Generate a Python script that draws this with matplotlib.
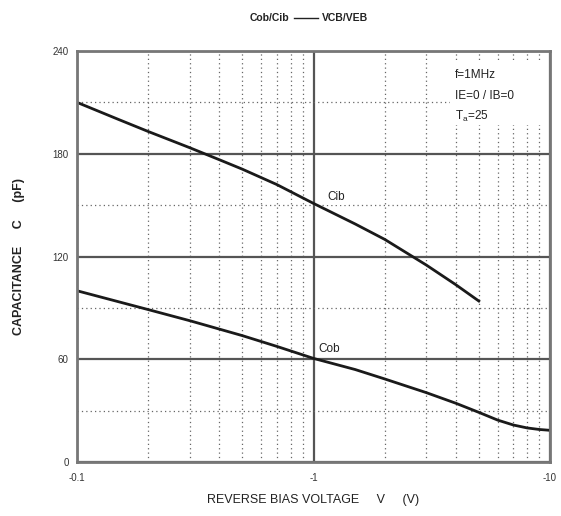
import numpy as np
import matplotlib
matplotlib.use("Agg")
import matplotlib.pyplot as plt
from matplotlib.ticker import FixedLocator, NullFormatter
from matplotlib.patches import Rectangle

plt.rcParams['font.family'] = ['Liberation Sans', 'DejaVu Sans']

# reverse bias voltage (V, magnitude) and capacitance (pF)
cib_v = [0.1, 0.15, 0.2, 0.3, 0.4, 0.5, 0.7, 1.0, 1.5, 2.0, 3.0, 4.0, 5.0]
cib_c = [210, 200, 193, 183.5, 176.5, 171, 162, 151, 139, 130, 115, 103.5, 94]

cob_v = [0.1, 0.2, 0.3, 0.5, 0.7, 1.0, 1.5, 2.0, 3.0, 4.0, 5.0, 6.0, 7.0, 8.0, 9.0, 10.0]
cob_c = [100, 89, 82.5, 73.8, 67.5, 60.5, 54, 48.5, 40.5, 34.3, 29, 24.5, 21.6, 19.9, 19, 18.5]

x_ticks = [0.1, 1, 10]
x_labels = ["-0.1", "-1", "-10"]
y_ticks = [0, 60, 120, 180, 240]
y_minor = [30, 90, 150, 210]

fig = plt.figure(figsize=(5.61, 5.16), dpi=100)
ax = fig.add_axes([77 / 561, 1 - 462 / 516, 473 / 561, 411 / 516])
ax.set_xscale('log')
ax.set_xlim(0.1, 10)
ax.set_ylim(0, 240)

grid_col = '#555555'
ax.xaxis.set_major_locator(FixedLocator(x_ticks))
ax.xaxis.set_minor_locator(FixedLocator([m * d for d in (0.1, 1) for m in range(2, 10)]))
ax.xaxis.set_minor_formatter(NullFormatter())
ax.set_xticklabels(x_labels)
ax.yaxis.set_major_locator(FixedLocator(y_ticks))
ax.yaxis.set_minor_locator(FixedLocator(y_minor))

ax.grid(which='major', color=grid_col, linewidth=1.6, linestyle='-')
ax.grid(which='minor', color='#666666', linewidth=0.9, linestyle=(0, (1, 2.5)))
ax.tick_params(which='both', length=0, labelsize=7, colors='#333333')
ax.tick_params(axis='x', pad=8)
ax.tick_params(axis='y', pad=6)
for sp in ax.spines.values():
    sp.set_color('#777777')
    sp.set_linewidth(2)

# white panel behind the conditions text, hides the grid there
ax.add_patch(Rectangle((0.789, 0.82), 0.205, 0.15, transform=ax.transAxes,
                       facecolor='white', edgecolor='none', zorder=1.8))

ax.plot(cib_v, cib_c, color='#1a1a1a', linewidth=2, solid_joinstyle='round')
ax.plot(cob_v, cob_c, color='#1a1a1a', linewidth=2, solid_joinstyle='round')

lbl_box = dict(facecolor='white', edgecolor='none', pad=1.5)
ax.text(1.15, 153, "Cib", fontsize=8.5, color='#222222', bbox=lbl_box)
ax.text(1.05, 64, "Cob", fontsize=8.5, color='#222222')

ax.text(3.95, 224, "f=1MHz", fontsize=8.5, color='#222222')
ax.text(3.95, 212, "IE=0 / IB=0", fontsize=8.5, color='#222222')
ax.text(3.95, 199.5, r"T$_{\mathregular{a}}$=25", fontsize=8.5, color='#222222')

ax.set_xlabel("REVERSE BIAS VOLTAGE     V     (V)", fontsize=9, color='#222222', labelpad=8)
ax.set_ylabel("CAPACITANCE     C     (pF)", fontsize=9, color='#222222', fontweight='bold', labelpad=20)

fig.text(0.515, 0.965, "Cob/Cib", fontsize=7.5, fontweight='bold', color='#222222', ha='right', va='center')
fig.add_artist(plt.Line2D([0.524, 0.567], [0.966, 0.966], color='#222222', linewidth=1, transform=fig.transFigure))
fig.text(0.574, 0.965, "VCB/VEB", fontsize=7.5, fontweight='bold', color='#222222', ha='left', va='center')

fig.savefig("out.png", dpi=100, facecolor='white')
